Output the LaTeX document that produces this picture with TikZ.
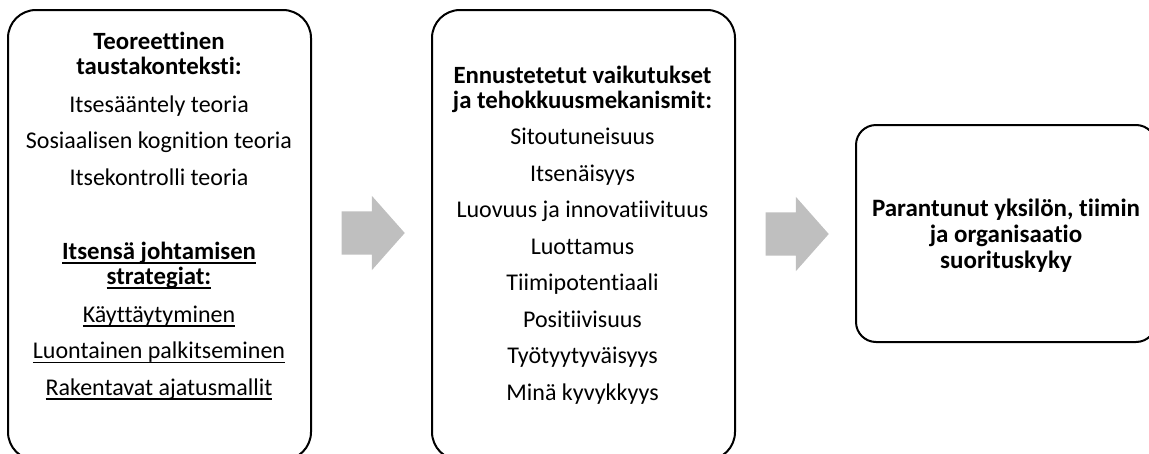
\documentclass[tikz,border=0pt]{standalone}
\usepackage{fontspec}
\setmainfont[Ligatures={NoCommon,NoContextual},Contextuals=NoAlternate]{Carlito}
\usetikzlibrary{shapes.arrows}
\newcommand{\undl}[1]{\leavevmode\setbox0=\hbox{#1}\rlap{\vrule height -3pt depth 4.5pt width \wd0}\box0}
\newcommand{\hd}[1]{{\fontsize{24.8}{25}\selectfont\bfseries #1}}

\begin{document}
\begin{tikzpicture}[x=1pt, y=-1pt,
  font=\fontsize{24}{25}\selectfont,
  panel/.style={draw, line width=2pt, rounded corners=28pt, inner sep=0pt},
  txt/.style={align=center, inner sep=0pt, anchor=base},
  flow/.style={single arrow, fill=black!25, draw=none, minimum height=63pt,
    single arrow head extend=15.5pt, single arrow head indent=0pt, single arrow tip angle=97,
    inner xsep=0pt, inner ysep=21.5pt, text height=0pt, text depth=0pt, anchor=tip}]

  \useasboundingbox (0,0) rectangle (1149,453);
  \clip (0,0) rectangle (1149,453);

  % panels
  \node[panel, minimum width=303pt, minimum height=450pt] (theory) at (159.5,235) {};
  \node[panel, minimum width=303pt, minimum height=450pt] (effects) at (583.5,235) {};
  \node[panel, rounded corners=20pt, minimum width=300pt, minimum height=217pt] (result) at (1006,233.5) {};

  % panel texts (anchored at the baseline of the last line)
  \node[txt] (theorytxt) at (159,395) {\hd{Teoreettinen}\\
    \hd{taustakonteksti:}\\[13pt]
    Itsesääntely teoria\\[11.5pt]
    Sosiaalisen kognition teoria\\[11.5pt]
    Itsekontrolli teoria\\[49pt]
    \hd{\undl{Itsensä johtamisen}}\\
    \hd{\undl{strategiat:}}\\[13pt]
    \undl{Käyttäytyminen}\\[11.5pt]
    \undl{Luontainen palkitseminen}\\[11.5pt]
    \undl{Rakentavat ajatusmallit}};

  \node[txt] (effectstxt) at (582.5,400) {\hd{Ennustetetut vaikutukset}\\
    \hd{ja tehokkuusmekanismit:}\\[11.5pt]
    Sitoutuneisuus\\[11.5pt]
    Itsenäisyys\\[11.5pt]
    Luovuus ja innovatiivituus\\[11.5pt]
    Luottamus\\[11.5pt]
    Tiimipotentiaali\\[11.5pt]
    Positiivisuus\\[11.5pt]
    Työtyytyväisyys\\[11.5pt]
    Minä kyvykkyys};

  \node[txt, font=\fontsize{25}{26}\selectfont\bfseries] (resulttxt) at (1006,268)
    {Parantunut yksilön, tiimin\\ ja organisaatio\\ suorituskyky};

  % block arrows
  \node[flow] (arr1) at (405,233) {};
  \node[flow] (arr2) at (829,234) {};
\end{tikzpicture}
\end{document}
